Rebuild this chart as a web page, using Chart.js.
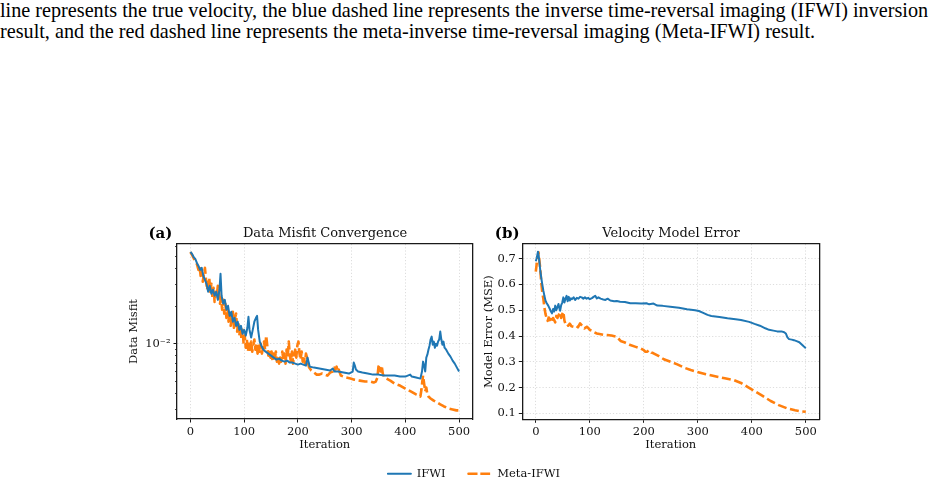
<!DOCTYPE html>
<html><head><meta charset="utf-8">
<script src="https://cdn.jsdelivr.net/npm/chart.js@4.4.0/dist/chart.umd.min.js"></script>
<style>
html,body{margin:0;padding:0;background:#fff;width:948px;height:483px;overflow:hidden;position:relative}
.cap{position:absolute;left:0;top:0;font-family:"Liberation Serif","Times New Roman",serif;font-size:20.2px;line-height:21px;color:#000;white-space:nowrap}
.box{position:absolute}
canvas{display:block}
</style></head><body>
<div class="cap">line represents the true velocity, the blue dashed line represents the inverse time-reversal imaging (IFWI) inversion<br>result, and the red dashed line represents the meta-inverse time-reversal imaging (Meta-IFWI) result.</div>
<div class="box" style="left:120px;top:215px;width:410px;height:245px"><canvas id="ca" width="410" height="245"></canvas></div>
<div class="box" style="left:475px;top:215px;width:392px;height:245px"><canvas id="cb" width="392" height="245"></canvas></div>
<div class="box" style="left:274px;top:445px;width:400px;height:130px"><canvas id="cl" width="400" height="130"></canvas></div>
<script>
// ---------- data ----------
const seriesNames = ['IFWI', 'Meta-IFWI'];
const iterTicks = [0, 100, 200, 300, 400, 500];
const misfitMajorTicks = [0.01];
const misfitMajorLabels = ['10\u207B\u00B2'];
const misfitMinorTicks = [0.003, 0.004, 0.005, 0.006, 0.007, 0.008, 0.009, 0.02, 0.03, 0.04, 0.05, 0.06];
const mseTicks = [0.1, 0.2, 0.3, 0.4, 0.5, 0.6, 0.7];

// (a) Data misfit, IFWI
const misfitIterIFWI = [0,3,6,9,12,15,18,21,24,27,30,33,36,39,42,45,48,51,54,56,58,61,64,67,70,73,76,79,82,85,88,91,94,97,100,103,106,108,110,113,116,119,122,124,126,129,132,136,140,145,150,155,160,165,170,175,180,185,190,195,200,205,210,215,218,222,230,240,250,260,265,268,275,285,295,302,304,306,308,312,320,330,340,350,360,370,380,390,400,409,412,420,428,431,433,435,437,439,441,443,445,447,449,451,453,455,457,459,461,463,465,467,469,471,473,476,480,484,488,492,496,500];
const misfitIFWI = [0.0541,0.0522,0.0493,0.0476,0.0442,0.0419,0.0389,0.0404,0.0349,0.0324,0.0301,0.0260,0.0290,0.0251,0.0270,0.0242,0.0260,0.0224,0.0270,0.0362,0.0242,0.0209,0.0224,0.0187,0.0201,0.0167,0.0180,0.0150,0.0161,0.0139,0.0150,0.0129,0.0139,0.0120,0.0129,0.0116,0.0134,0.0164,0.0129,0.0112,0.0129,0.0150,0.0161,0.0167,0.0129,0.0104,0.00964,0.00896,0.00864,0.00833,0.00803,0.00774,0.00746,0.00760,0.00732,0.00719,0.00732,0.00706,0.00706,0.00693,0.00681,0.00693,0.00681,0.00668,0.00774,0.00656,0.00644,0.00633,0.00621,0.00610,0.00633,0.00599,0.00599,0.00588,0.00577,0.00599,0.00706,0.00668,0.00621,0.00599,0.00588,0.00577,0.00566,0.00566,0.00556,0.00556,0.00556,0.00546,0.00546,0.00566,0.00546,0.00536,0.00526,0.00599,0.00719,0.00668,0.00599,0.00774,0.00817,0.00896,0.00964,0.0108,0.0114,0.00982,0.0104,0.00929,0.0100,0.00964,0.0104,0.0108,0.0125,0.0108,0.00982,0.0104,0.00929,0.00896,0.00833,0.00788,0.00732,0.00693,0.00644,0.00599];

// (a) Data misfit, Meta-IFWI
const misfitIterMeta = [0,3,6,9,12,15,17,19,21,23,25,27,29,31,33,35,37,39,41,43,45,47,49,51,53,55,57,59,61,63,65,67,69,71,73,75,77,79,81,83,85,87,89,91,93,95,97,99,101,103,105,107,109,111,113,115,117,119,121,123,125,127,129,131,133,135,137,139,141,143,145,147,149,151,153,155,157,159,161,163,165,167,169,171,173,175,177,179,181,183,185,187,189,191,193,195,197,199,201,203,205,207,209,211,213,215,217,219,221,225,230,235,240,245,250,255,260,265,268,270,272,274,276,280,285,290,298,305,315,325,335,341,345,348,350,352,354,356,358,360,365,372,380,390,400,410,420,428,430,432,433,435,437,439,441,443,447,452,459,465,472,480,488,495,500];
const misfitMeta = [0.0541,0.0512,0.0484,0.0450,0.0434,0.0389,0.0419,0.0349,0.0389,0.0313,0.0362,0.0404,0.0324,0.0270,0.0313,0.0336,0.0260,0.0301,0.0233,0.0280,0.0216,0.0260,0.0242,0.0290,0.0270,0.0209,0.0233,0.0187,0.0224,0.0174,0.0209,0.0161,0.0194,0.0150,0.0180,0.0139,0.0167,0.0180,0.0134,0.0161,0.0174,0.0125,0.0150,0.0116,0.0139,0.0108,0.0129,0.0100,0.0116,0.00929,0.0108,0.00864,0.0100,0.00896,0.0104,0.00864,0.00964,0.0108,0.00896,0.0100,0.00833,0.00964,0.00864,0.0100,0.00833,0.00929,0.0104,0.00896,0.0116,0.00964,0.00803,0.00896,0.00774,0.00864,0.00719,0.00833,0.00746,0.00864,0.00719,0.00803,0.00693,0.00774,0.00719,0.00864,0.00746,0.00833,0.00693,0.00896,0.00774,0.0104,0.00803,0.00719,0.00864,0.00693,0.00803,0.00896,0.00774,0.00964,0.0104,0.00833,0.00746,0.00864,0.00719,0.00803,0.00693,0.00833,0.00774,0.00693,0.00644,0.00610,0.00588,0.00566,0.00566,0.00577,0.00566,0.00556,0.00588,0.00599,0.00644,0.00621,0.00656,0.00599,0.00621,0.00556,0.00546,0.00536,0.00526,0.00516,0.00507,0.00498,0.00498,0.00489,0.00498,0.00536,0.00656,0.00681,0.00599,0.00668,0.00577,0.00546,0.00526,0.00507,0.00480,0.00463,0.00438,0.00415,0.00393,0.00378,0.00430,0.00516,0.00556,0.00480,0.00415,0.00446,0.00393,0.00378,0.00365,0.00352,0.00339,0.00327,0.00315,0.00304,0.00298,0.00293,0.00293];

// (b) Velocity model error, IFWI
const mseIterIFWI = [0,2,4,5,6,8,10,12,14,16,18,20,23,26,28,30,32,34,36,38,40,42,44,45,47,49,51,53,55,57,59,61,63,65,67,70,73,76,79,82,85,88,91,94,97,100,104,107,110,113,116,120,125,129,133,138,145,150,156,165,175,185,195,205,210,218,225,235,249,265,280,295,302,310,318,325,340,355,370,380,395,405,415,425,432,440,447,455,460,463,466,469,474,478,483,488,492,496,500];
const mseIFWI = [0.690,0.705,0.727,0.715,0.700,0.660,0.628,0.600,0.576,0.555,0.537,0.528,0.518,0.505,0.495,0.488,0.505,0.495,0.518,0.500,0.512,0.524,0.505,0.498,0.520,0.530,0.550,0.530,0.545,0.556,0.535,0.552,0.538,0.546,0.543,0.550,0.540,0.548,0.545,0.552,0.550,0.545,0.550,0.545,0.548,0.543,0.547,0.552,0.556,0.546,0.550,0.545,0.542,0.540,0.545,0.538,0.535,0.536,0.533,0.532,0.527,0.527,0.526,0.527,0.523,0.526,0.518,0.517,0.514,0.510,0.504,0.500,0.497,0.490,0.482,0.478,0.474,0.469,0.465,0.462,0.455,0.447,0.440,0.430,0.424,0.421,0.418,0.418,0.415,0.410,0.395,0.388,0.386,0.384,0.380,0.376,0.368,0.360,0.353];

// (b) Velocity model error, Meta-IFWI
const mseIterMeta = [0,2,4,5,6,8,10,12,14,16,18,20,22,24,26,28,30,32,34,36,38,40,42,45,47,49,51,53,55,57,60,63,66,70,74,78,82,86,90,95,100,104,108,113,118,125,132,140,150,157,165,175,185,194,200,203,206,210,214,218,228,237,250,262,275,287,299,315,336,350,367,380,392,404,420,435,450,466,480,490,500];
const mseMeta = [0.650,0.686,0.700,0.725,0.705,0.667,0.610,0.570,0.544,0.510,0.485,0.470,0.459,0.472,0.462,0.466,0.455,0.470,0.462,0.453,0.478,0.470,0.480,0.492,0.470,0.485,0.494,0.460,0.447,0.449,0.440,0.448,0.438,0.436,0.440,0.434,0.449,0.440,0.430,0.436,0.424,0.421,0.415,0.410,0.408,0.405,0.404,0.402,0.397,0.381,0.375,0.365,0.358,0.352,0.345,0.339,0.339,0.345,0.336,0.333,0.322,0.310,0.300,0.290,0.277,0.268,0.261,0.252,0.242,0.236,0.229,0.218,0.203,0.188,0.168,0.148,0.132,0.119,0.112,0.108,0.106];

// ---------- styling ----------
const BLUE = '#1f77b4', ORANGE = '#ff7f0e';
const FONT = '"DejaVu Serif", serif';
const SPINE = '#1a1a1a';
const GRID = 'rgba(176,176,176,0.55)';
const TICK_PX = 11.5, LABEL_PX = 11.5, TITLE_PX = 13;
Chart.defaults.font.family = FONT;
Chart.defaults.color = '#111';
Chart.defaults.animation = false;

const pts = (xs, ys) => xs.map((x, i) => ({x: x, y: ys[i]}));
const setTicks = vals => scale => { scale.ticks = vals.map(v => ({value: v})); };
const fixW = w => s => { s.width = w; };
const fixH = h => s => { s.height = h; };

const panelLabel = {
  id: 'panelLabel',
  afterDraw(chart, args, opts) {
    const {ctx, chartArea} = chart;
    ctx.save();
    ctx.font = 'bold 15px ' + FONT;
    ctx.fillStyle = '#000';
    ctx.textAlign = 'left';
    ctx.textBaseline = 'middle';
    ctx.fillText(opts.text, chartArea.left + opts.dx, chartArea.top + opts.dy);
    ctx.restore();
  }
};

function lineDatasets(xsA, ysA, xsB, ysB) {
  return [
    {label: seriesNames[0], data: pts(xsA, ysA), borderColor: BLUE, backgroundColor: BLUE,
     borderWidth: 2, pointRadius: 0, tension: 0, borderJoinStyle: 'round', fill: false},
    {label: seriesNames[1], data: pts(xsB, ysB), borderColor: ORANGE, backgroundColor: ORANGE,
     borderWidth: 2.6, borderDash: [9, 3.6], pointRadius: 0, tension: 0, borderJoinStyle: 'round', fill: false}
  ];
}

function xScale(h) {
  return {
    type: 'linear', position: 'bottom', min: -25, max: 525,
    afterBuildTicks: setTicks(iterTicks), afterFit: fixH(h),
    grid: {color: GRID, lineWidth: 0.8, tickLength: 3.5, tickColor: SPINE, tickWidth: 1},
    border: {display: true, color: SPINE, width: 1.3, dash: [1.2, 2]},
    ticks: {font: {size: TICK_PX}, color: '#111', padding: 2.6, maxRotation: 0, callback: v => String(v)},
    title: {display: true, text: 'Iteration', font: {size: LABEL_PX}, color: '#111', padding: {top: 0, bottom: 8}}
  };
}
function spine(pos, size) {
  const s = {
    type: 'linear', position: pos, display: true,
    grid: {display: false, drawOnChartArea: false, drawTicks: false},
    border: {display: true, color: SPINE, width: 1.3},
    ticks: {display: false}
  };
  if (pos === 'top') s.afterFit = fixH(size); else s.afterFit = fixW(size);
  return s;
}
const titleOpts = text => ({display: true, text: text, font: {size: TITLE_PX, weight: 'normal'}, color: '#111', padding: {top: 11.2, bottom: 2.2}});

// ---------- chart (a) ----------
new Chart(document.getElementById('ca'), {
  type: 'line',
  data: {datasets: lineDatasets(misfitIterIFWI, misfitIFWI, misfitIterMeta, misfitMeta)},
  plugins: [panelLabel],
  options: {
    responsive: false, animation: false, events: [],
    layout: {padding: 0, autoPadding: false},
    scales: {
      x: xScale(41),
      xTop: spine('top', 0),
      y: {
        type: 'logarithmic', position: 'left', weight: 1, min: 0.0025, max: 0.0627,
        afterBuildTicks: setTicks(misfitMajorTicks), afterFit: fixW(57),
        grid: {color: GRID, lineWidth: 0.8, tickLength: 3.5, tickColor: SPINE, tickWidth: 1},
        border: {display: true, color: SPINE, width: 1.3, dash: [1.2, 2]},
        ticks: {font: {size: TICK_PX}, color: '#111', padding: 3,
                callback: (v) => { const i = misfitMajorTicks.indexOf(v); return i >= 0 ? misfitMajorLabels[i] : ''; }},
        title: {display: true, text: 'Data Misfit', font: {size: LABEL_PX}, color: '#111', padding: {top: 7.1, bottom: 0}}
      },
      yMinor: {
        type: 'logarithmic', position: 'left', weight: 0, min: 0.0025, max: 0.0627,
        afterBuildTicks: setTicks(misfitMinorTicks), afterFit: fixW(0),
        grid: {drawOnChartArea: false, tickLength: 2, tickColor: SPINE, tickWidth: 0.8},
        border: {display: false},
        ticks: {display: false}
      },
      yRight: spine('right', 57.5)
    },
    plugins: {
      legend: {display: false}, tooltip: {enabled: false},
      title: titleOpts('Data Misfit Convergence'),
      panelLabel: {text: '(a)', dx: -28.5, dy: -9.5}
    }
  }
});

// ---------- chart (b) ----------
new Chart(document.getElementById('cb'), {
  type: 'line',
  data: {datasets: lineDatasets(mseIterIFWI, mseIFWI, mseIterMeta, mseMeta)},
  plugins: [panelLabel],
  options: {
    responsive: false, animation: false, events: [],
    layout: {padding: 0, autoPadding: false},
    scales: {
      x: xScale(40.7),
      xTop: spine('top', 0),
      y: {
        type: 'linear', position: 'left', min: 0.077, max: 0.757,
        afterBuildTicks: setTicks(mseTicks), afterFit: fixW(47.3),
        grid: {color: GRID, lineWidth: 0.8, tickLength: 3.5, tickColor: SPINE, tickWidth: 1},
        border: {display: true, color: SPINE, width: 1.3, dash: [1.2, 2]},
        ticks: {font: {size: TICK_PX}, color: '#111', padding: 3, callback: v => v.toFixed(1)},
        title: {display: true, text: 'Model Error (MSE)', font: {size: LABEL_PX}, color: '#111', padding: {top: 7.1, bottom: 0}}
      },
      yRight: spine('right', 47.7)
    },
    plugins: {
      legend: {display: false}, tooltip: {enabled: false},
      title: titleOpts('Velocity Model Error'),
      panelLabel: {text: '(b)', dx: -27.5, dy: -9.5}
    }
  }
});

// ---------- shared legend ----------
new Chart(document.getElementById('cl'), {
  type: 'line',
  data: {datasets: lineDatasets([], [], [], [])},
  options: {
    responsive: false, animation: false, events: [],
    layout: {padding: 0},
    scales: {x: {display: false}, y: {display: false}},
    plugins: {
      tooltip: {enabled: false},
      legend: {display: true, position: 'top',
        labels: {usePointStyle: false, boxWidth: 23, boxHeight: 0,
                 padding: 23, font: {size: LABEL_PX}, color: '#111'}}
    }
  }
});
</script>
</body></html>
